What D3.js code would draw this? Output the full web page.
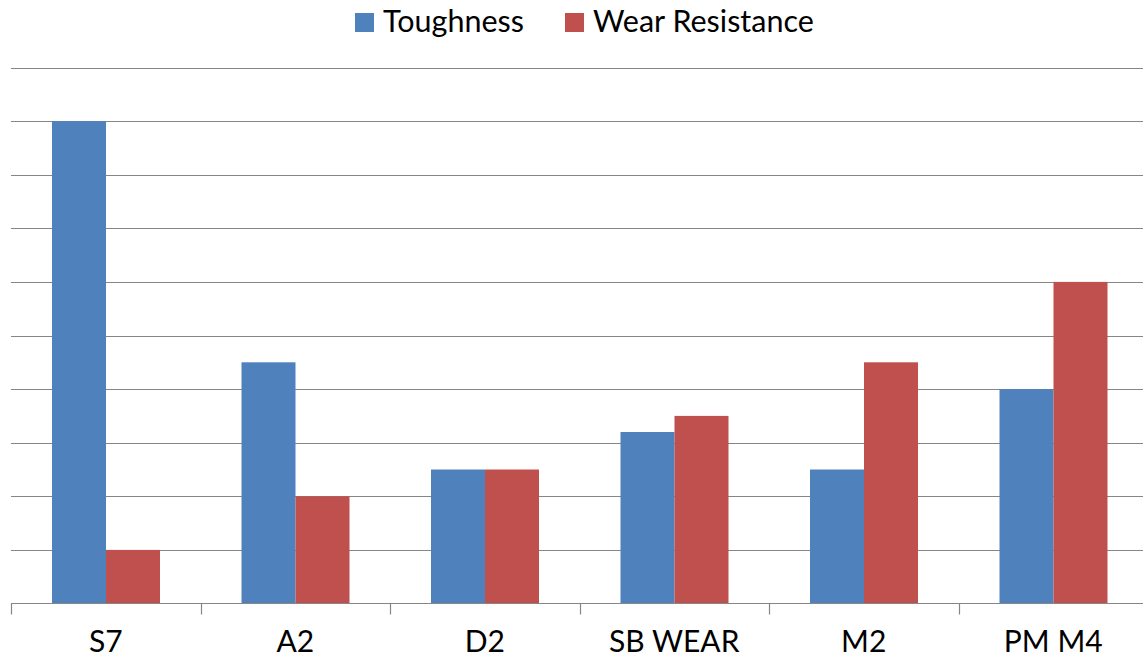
<!DOCTYPE html>
<html>
<head>
<meta charset="utf-8">
<script src="https://cdn.jsdelivr.net/npm/d3@7"></script>
<style>
  body { margin: 0; background: #fff; }
  text { font-family: Lato, "Open Sans", sans-serif; fill: #000; }
</style>
</head>
<body>
<script>
// data
var categories = ["S7", "A2", "D2", "SB WEAR", "M2", "PM M4"];
var series = ["Toughness", "Wear Resistance"];
var toughness = [9, 4.5, 2.5, 3.2, 2.5, 4];
var wear = [1, 2, 2.5, 3.5, 4.5, 6];
var colors = ["#4F81BD", "#C0504D"];
var gridTicks = [0, 1, 2, 3, 4, 5, 6, 7, 8, 9, 10];

var W = 1143, H = 659;
var svg = d3.select("body").append("svg")
  .attr("width", W).attr("height", H);

// scales
var x = d3.scaleBand().domain(categories).range([11, 1148]).paddingInner(0).paddingOuter(0);
var inner = d3.scaleBand().domain(series).range([41, x.bandwidth() - 40.5]);
var y = d3.scaleLinear().domain([0, 10]).range([603.5, 67.5]);

// gridlines
svg.append("g").selectAll("line")
  .data(gridTicks.slice(1))
  .enter().append("line")
  .attr("x1", 11).attr("x2", W)
  .attr("y1", function(d) { return Math.round(y(d)) + 0.5; })
  .attr("y2", function(d) { return Math.round(y(d)) + 0.5; })
  .attr("stroke", "#868686").attr("stroke-width", 1.2);

// bars
var rows = categories.map(function(c, i) {
  return {cat: c, vals: [toughness[i], wear[i]]};
});
var grp = svg.append("g").selectAll("g")
  .data(rows).enter().append("g")
  .attr("transform", function(d) { return "translate(" + x(d.cat) + ",0)"; });
grp.selectAll("rect")
  .data(function(d) { return d.vals.map(function(v, j) { return {s: series[j], v: v, j: j}; }); })
  .enter().append("rect")
  .attr("x", function(d) { return inner(d.s); })
  .attr("width", inner.bandwidth())
  .attr("y", function(d) { return y(d.v); })
  .attr("height", function(d) { return y(0) - y(d.v); })
  .attr("fill", function(d) { return colors[d.j]; });

// x axis
var ax = svg.append("g").attr("transform", "translate(0," + 603.5 + ")");
ax.append("line").attr("x1", 11).attr("x2", W).attr("y1", 0).attr("y2", 0)
  .attr("stroke", "#868686").attr("stroke-width", 1.2);
ax.selectAll(".tk").data(categories.concat(["end"]))
  .enter().append("line")
  .attr("x1", function(d, i) { return Math.round(11 + i * x.step()) + 0.5; })
  .attr("x2", function(d, i) { return Math.round(11 + i * x.step()) + 0.5; })
  .attr("y1", 0).attr("y2", 11)
  .attr("stroke", "#868686").attr("stroke-width", 1.2);
ax.selectAll(".lbl").data(categories)
  .enter().append("text")
  .attr("x", function(d) { return x(d) + x.bandwidth() / 2; })
  .attr("y", 48)
  .attr("text-anchor", "middle")
  .style("font-size", "30px")
  .text(function(d) { return d; });

// legend
var legend = svg.append("g");
var legX = [355, 565];
series.forEach(function(s, i) {
  legend.append("rect").attr("x", legX[i]).attr("y", 13).attr("width", 19).attr("height", 19)
    .attr("fill", colors[i]);
  legend.append("text").attr("x", legX[i] + 28).attr("y", 31.5)
    .style("font-size", "30.5px")
    .text(s);
});
</script>
</body>
</html>
